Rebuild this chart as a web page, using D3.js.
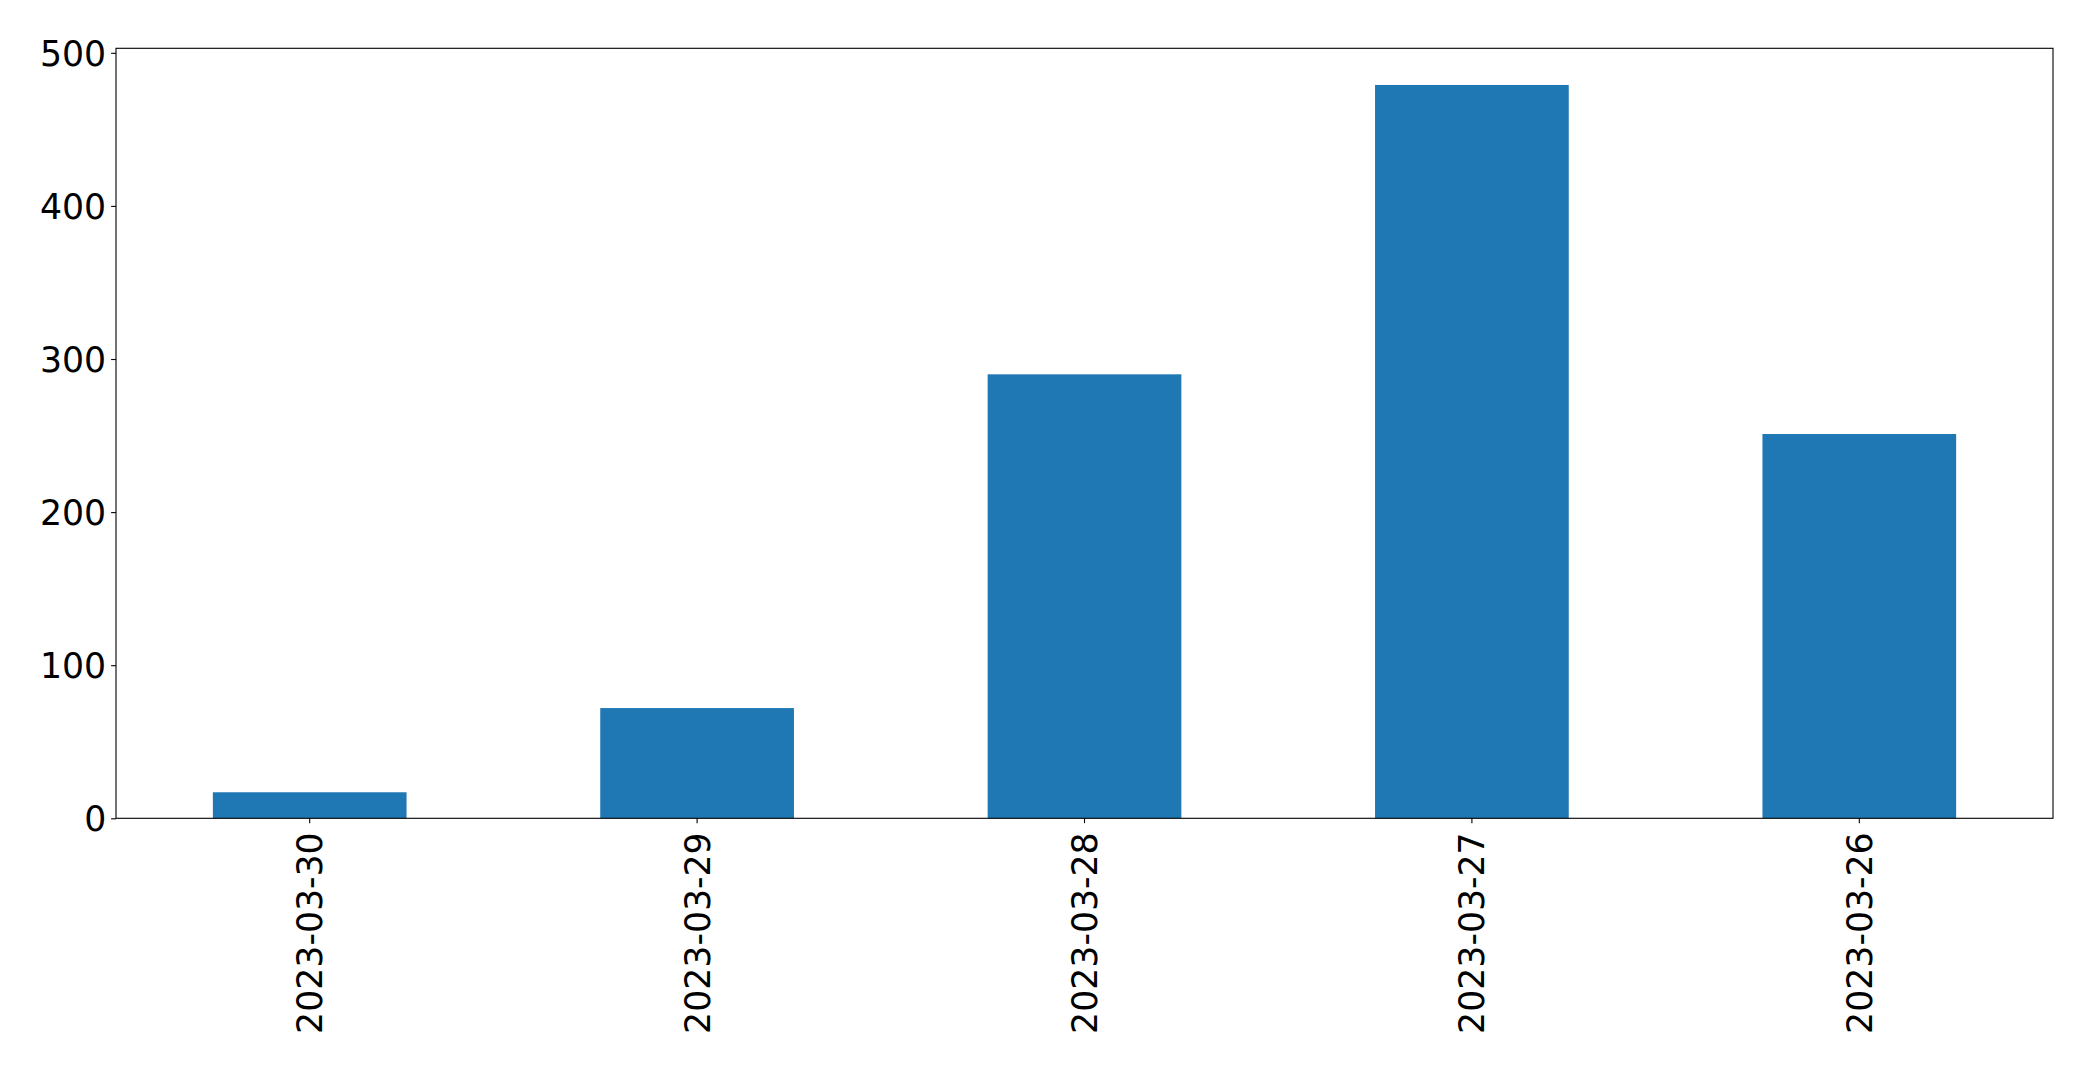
<!DOCTYPE html>
<html>
<head>
<meta charset="utf-8">
<script src="https://cdn.jsdelivr.net/npm/d3@7"></script>
<style>
  html, body { margin: 0; padding: 0; background: #fff; }
  svg { display: block; }
  text { font-family: "DejaVu Sans", sans-serif; fill: #000; }
</style>
</head>
<body>
<script>
const categories = ["2023-03-30", "2023-03-29", "2023-03-28", "2023-03-27", "2023-03-26"];
const values = [17, 72, 290, 479, 251];
const yTicks = [0, 100, 200, 300, 400, 500];

const W = 2093, H = 1070;
const margin = { left: 116, right: 40, top: 48.3, bottom: 251.7 };
const plotW = W - margin.left - margin.right;
const plotH = H - margin.top - margin.bottom;
const fontSize = 34.7;

const svg = d3.select("body").append("svg").attr("width", W).attr("height", H);
const g = svg.append("g").attr("transform", `translate(${margin.left},${margin.top})`);

const x = d3.scaleBand().domain(categories).range([0, plotW]).paddingInner(0.5).paddingOuter(0.25);
const yMax = d3.max(values) * 1.05;
const y = d3.scaleLinear().domain([0, yMax]).range([plotH, 0]);

g.selectAll("rect.bar").data(values).enter().append("rect")
  .attr("class", "bar")
  .attr("x", (d, i) => x(categories[i]))
  .attr("y", d => y(d))
  .attr("width", x.bandwidth())
  .attr("height", d => plotH - y(d))
  .attr("fill", "#1f77b4");

// Y axis
const yAxis = d3.axisLeft(y).tickValues(yTicks).tickSize(4.9).tickPadding(4.9);
const yg = g.append("g").call(yAxis);
yg.select(".domain").remove();
yg.selectAll("line").attr("stroke", "#000").attr("stroke-width", 1.1);
yg.selectAll("text").attr("font-size", fontSize).attr("font-family", "DejaVu Sans").attr("dy", "0.36em");

// X axis
const xAxis = d3.axisBottom(x).tickSize(4.9).tickPadding(4.9);
const xg = g.append("g").attr("transform", `translate(0,${plotH})`).call(xAxis);
xg.select(".domain").remove();
xg.selectAll("line").attr("stroke", "#000").attr("stroke-width", 1.1);
xg.selectAll("text")
  .attr("font-size", fontSize)
  .attr("font-family", "DejaVu Sans")
  .attr("text-anchor", "end")
  .attr("transform", "translate(0,14) rotate(-90)")
  .attr("x", 0).attr("y", 0)
  .attr("dy", "0.36em");

// Frame (spines)
g.append("rect")
  .attr("x", 0).attr("y", 0).attr("width", plotW).attr("height", plotH)
  .attr("fill", "none").attr("stroke", "#000").attr("stroke-width", 1.1);
</script>
</body>
</html>
